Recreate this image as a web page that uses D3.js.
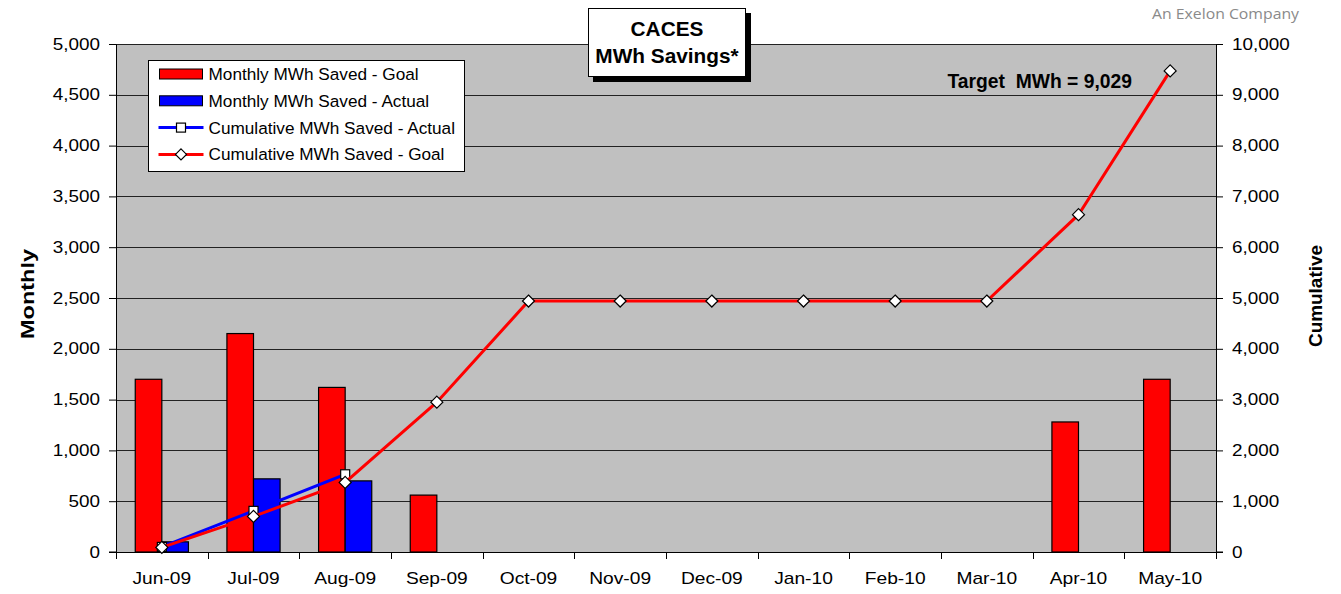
<!DOCTYPE html>
<html>
<head>
<meta charset="utf-8">
<script src="https://cdn.jsdelivr.net/npm/d3@7"></script>
<style>
  body { margin: 0; background: #fff; }
  svg { display: block; font-family: "Liberation Sans", Arial, sans-serif; }
</style>
</head>
<body>
<svg id="chart"></svg>
<script>
// data
const months = ["Jun-09", "Jul-09", "Aug-09", "Sep-09", "Oct-09", "Nov-09", "Dec-09", "Jan-10", "Feb-10", "Mar-10", "Apr-10", "May-10"];
const monthlyGoal = [1700, 2150, 1620, 560, null, null, null, null, null, null, 1280, 1700];
const monthlyActual = [100, 720, 700, null, null, null, null, null, null, null, null, null];
const cumActual = [100, 810, 1530, null, null, null, null, null, null, null, null, null];
const cumGoal = [90, 700, 1370, 2950, 4940, 4940, 4940, 4940, 4940, 4940, 6640, 9470];
const leftTicks = [0, 500, 1000, 1500, 2000, 2500, 3000, 3500, 4000, 4500, 5000];
const rightTicks = [0, 1000, 2000, 3000, 4000, 5000, 6000, 7000, 8000, 9000, 10000];
const legendItems = [
  { label: "Monthly MWh Saved - Goal", kind: "bar", color: "#ff0000" },
  { label: "Monthly MWh Saved - Actual", kind: "bar", color: "#0000ff" },
  { label: "Cumulative MWh Saved - Actual", kind: "square", color: "#0000ff" },
  { label: "Cumulative MWh Saved - Goal", kind: "diamond", color: "#ff0000" }
];

const width = 1341, height = 594;
const svg = d3.select("#chart").attr("width", width).attr("height", height);

const margin = { top: 44, right: 125, bottom: 42, left: 116 };
const innerW = width - margin.left - margin.right;
const innerH = height - margin.top - margin.bottom;

const g = svg.append("g").attr("transform", `translate(${margin.left},${margin.top})`);

// the reference text is drawn a bit wide, so stretch tick labels horizontally
function stretch(sel, k) {
  sel.each(function () {
    const t = d3.select(this);
    const tx = +t.attr("x") || 0, ty = +t.attr("y") || 0;
    t.attr("x", 0).attr("y", 0).attr("transform", `translate(${tx},${ty}) scale(${k},1)`);
  });
}

// Scales
const x = d3.scaleBand().domain(months).range([0, innerW]);
const yL = d3.scaleLinear().domain([0, 5000]).range([innerH, 0]);
const yR = d3.scaleLinear().domain([0, 10000]).range([innerH, 0]);
const barW = x.bandwidth() * 0.29;
const cx = m => x(m) + x.bandwidth() / 2;

// plot background
g.append("rect").attr("width", innerW).attr("height", innerH).attr("fill", "#c0c0c0");

// gridlines
g.append("g").selectAll("line").data(leftTicks.slice(1)).join("line")
  .attr("x1", 0).attr("x2", innerW)
  .attr("y1", d => Math.round(yL(d)) + 0.5).attr("y2", d => Math.round(yL(d)) + 0.5)
  .attr("stroke", "#222").attr("stroke-width", 1);

// axes
const fmt = d3.format(",");
const axL = g.append("g")
  .call(d3.axisLeft(yL).tickValues(leftTicks).tickFormat(fmt).tickSize(7).tickPadding(9));
const axR = g.append("g").attr("transform", `translate(${innerW},0)`)
  .call(d3.axisRight(yR).tickValues(rightTicks).tickFormat(fmt).tickSize(7).tickPadding(9));
const axB = g.append("g").attr("transform", `translate(0,${innerH})`)
  .call(d3.axisBottom(x).tickSize(0).tickPadding(21));
// category boundary ticks
g.append("g").selectAll("line").data(d3.range(months.length + 1)).join("line")
  .attr("x1", i => Math.round(i * x.step()) + 0.5).attr("x2", i => Math.round(i * x.step()) + 0.5)
  .attr("y1", innerH).attr("y2", innerH + 7)
  .attr("stroke", "#000");

[axL, axR, axB].forEach(a => {
  a.select(".domain").attr("stroke", "#000");
  a.selectAll(".tick line").attr("stroke", "#000");
  a.selectAll("text").attr("font-size", 16).attr("fill", "#000")
    .attr("font-family", "Liberation Sans, Arial, sans-serif");
});
stretch(axL.selectAll("text"), 1.18);
stretch(axR.selectAll("text"), 1.18);
stretch(axB.selectAll("text"), 1.2);
axL.select(".domain").attr("d", `M-7,0.5H0.5V${innerH}H-7`);
axR.select(".domain").attr("d", `M7,0.5H0.5V${innerH}H7`);

// bars
const bars = g.append("g");
bars.selectAll(".goal").data(months.map((m, i) => ({ m, v: monthlyGoal[i] })).filter(d => d.v != null))
  .join("rect")
  .attr("x", d => cx(d.m) - barW).attr("width", barW)
  .attr("y", d => yL(d.v)).attr("height", d => innerH - yL(d.v))
  .attr("fill", "#ff0000").attr("stroke", "#000").attr("stroke-width", 1.2);
bars.selectAll(".actual").data(months.map((m, i) => ({ m, v: monthlyActual[i] })).filter(d => d.v != null))
  .join("rect")
  .attr("x", d => cx(d.m)).attr("width", barW)
  .attr("y", d => yL(d.v)).attr("height", d => innerH - yL(d.v))
  .attr("fill", "#0000ff").attr("stroke", "#000").attr("stroke-width", 1.2);

// lines
const line = d3.line().defined(d => d.v != null).x(d => cx(d.m)).y(d => yR(d.v));
const actPts = months.map((m, i) => ({ m, v: cumActual[i] }));
const goalPts = months.map((m, i) => ({ m, v: cumGoal[i] }));

g.append("path").datum(actPts).attr("d", line)
  .attr("fill", "none").attr("stroke", "#0000ff").attr("stroke-width", 3);
g.append("g").selectAll("rect").data(actPts.filter(d => d.v != null)).join("rect")
  .attr("x", d => cx(d.m) - 4.5).attr("y", d => yR(d.v) - 4.5)
  .attr("width", 9).attr("height", 9)
  .attr("fill", "#fff").attr("stroke", "#000").attr("stroke-width", 1.2);

g.append("path").datum(goalPts).attr("d", line)
  .attr("fill", "none").attr("stroke", "#ff0000").attr("stroke-width", 3);
const diamond = "M0,-6L6,0L0,6L-6,0Z";
g.append("g").selectAll("path").data(goalPts).join("path")
  .attr("transform", d => `translate(${cx(d.m)},${yR(d.v)})`)
  .attr("d", diamond)
  .attr("fill", "#fff").attr("stroke", "#000").attr("stroke-width", 1.2);

// axis titles
svg.append("text").attr("transform", `translate(34,${margin.top + innerH / 2 - 4}) rotate(-90)`)
  .attr("text-anchor", "middle").attr("font-size", 19).attr("font-weight", "bold")
  .attr("textLength", 90).attr("lengthAdjust", "spacingAndGlyphs").text("Monthly");
svg.append("text").attr("transform", `translate(1322,${margin.top + innerH / 2 - 2}) rotate(-90)`)
  .attr("text-anchor", "middle").attr("font-size", 19).attr("font-weight", "bold")
  .attr("textLength", 102).attr("lengthAdjust", "spacingAndGlyphs").text("Cumulative");

// target annotation
svg.append("text").attr("x", 1132).attr("y", 88).attr("text-anchor", "end")
  .attr("font-size", 19.3).attr("font-weight", "bold").attr("xml:space", "preserve")
  .text("Target  MWh = 9,029");

// legend
const lg = svg.append("g").attr("transform", "translate(148.5,60.5)");
lg.append("rect").attr("width", 316).attr("height", 111)
  .attr("fill", "#fff").attr("stroke", "#000").attr("stroke-width", 1);
legendItems.forEach((it, i) => {
  const yy = 13.5 + i * 26.8;
  const row = lg.append("g").attr("transform", `translate(0,${yy})`);
  if (it.kind === "bar") {
    row.append("rect").attr("x", 11).attr("y", -5).attr("width", 43).attr("height", 10)
      .attr("fill", it.color).attr("stroke", "#000").attr("stroke-width", 1);
  } else {
    row.append("line").attr("x1", 10).attr("x2", 55).attr("y1", 0).attr("y2", 0)
      .attr("stroke", it.color).attr("stroke-width", 3);
    if (it.kind === "square") {
      row.append("rect").attr("x", 28).attr("y", -4.5).attr("width", 9).attr("height", 9)
        .attr("fill", "#fff").attr("stroke", "#000").attr("stroke-width", 1.2);
    } else {
      row.append("path").attr("transform", "translate(32.5,0)").attr("d", "M0,-5.5L5.5,0L0,5.5L-5.5,0Z")
        .attr("fill", "#fff").attr("stroke", "#000").attr("stroke-width", 1.2);
    }
  }
  row.append("text").attr("x", 60).attr("y", 6).attr("font-size", 17.2).text(it.label);
});

// title box
const tb = svg.append("g");
tb.append("rect").attr("x", 593).attr("y", 13).attr("width", 158).attr("height", 69).attr("fill", "#000");
tb.append("rect").attr("x", 588.5).attr("y", 8.5).attr("width", 157).attr("height", 68)
  .attr("fill", "#fff").attr("stroke", "#000").attr("stroke-width", 1);
tb.append("text").attr("x", 667).attr("y", 35.5).attr("text-anchor", "middle")
  .attr("font-size", 20.8).attr("font-weight", "bold").text("CACES");
tb.append("text").attr("x", 667).attr("y", 63).attr("text-anchor", "middle")
  .attr("font-size", 20.8).attr("font-weight", "bold").text("MWh Savings*");

// company tag
svg.append("text").attr("x", 1299).attr("y", 19).attr("text-anchor", "end")
  .attr("font-family", "Open Sans, sans-serif").attr("font-size", 14.5).attr("fill", "#8a8a8a")
  .attr("textLength", 147).attr("lengthAdjust", "spacingAndGlyphs")
  .text("An Exelon Company");
</script>
</body>
</html>
